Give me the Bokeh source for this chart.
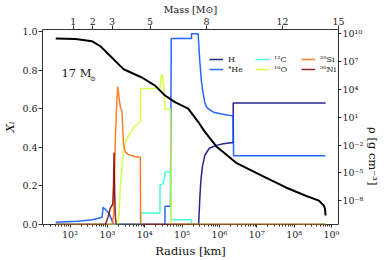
import numpy as np
from bokeh.plotting import figure
from bokeh.models import (Range1d, LogScale, LogAxis, FixedTicker,
                          PrintfTickFormatter, Legend, LegendItem, Label)
from bokeh.embed import file_html
from bokeh.resources import INLINE

# ---- data (log10 radius [km], mass fraction) ----
h_logr = [1.617, 5.444, 5.479, 5.505, 5.545, 5.612, 5.731, 5.918, 6.104, 6.316, 6.37, 6.37, 8.843]
h_x = [0.0, 0.0, 0.15, 0.23, 0.30, 0.36, 0.395, 0.41, 0.418, 0.424, 0.424, 0.63, 0.63]

he_logr = [1.617, 2.2, 2.6, 2.859, 2.886, 3.037, 3.170, 4.543, 4.543, 4.69, 4.71, 5.253, 5.253,
           5.431, 5.473, 5.519, 5.564, 5.606, 5.652, 5.731, 5.864, 6.104, 6.316, 6.37, 6.38, 8.843]
he_x = [0.012, 0.017, 0.025, 0.038, 0.089, 0.06, 0.0, 0.0, 0.094, 0.094, 0.963, 0.963, 0.988,
        0.988, 0.85, 0.74, 0.68, 0.635, 0.61, 0.595, 0.58, 0.571, 0.564, 0.564, 0.356, 0.356]

c_logr = [1.617, 3.891, 3.891, 4.410, 4.410, 4.49, 4.53, 4.543, 4.69, 4.71, 5.253, 5.253, 8.843]
c_x = [0.0, 0.0, 0.06, 0.06, 0.203, 0.212, 0.24, 0.272, 0.272, 0.025, 0.025, 0.0, 0.0]

o_logr = [1.617, 3.271, 3.311, 3.346, 3.391, 3.436, 3.505, 3.604, 3.710, 3.891, 3.891, 4.410,
          4.428, 4.455, 4.481, 4.508, 4.535, 4.543, 4.69, 4.71, 8.843]
o_x = [0.0, 0.0, 0.05, 0.19, 0.30, 0.39, 0.44, 0.47, 0.505, 0.535, 0.704, 0.704,
       0.74, 0.776, 0.77, 0.72, 0.63, 0.597, 0.597, 0.0, 0.0]

si_logr = [1.617, 3.125, 3.170, 3.213, 3.245, 3.277, 3.311, 3.346, 3.391, 3.418, 3.436, 3.479,
           3.569, 3.737, 3.883, 3.891, 8.843]
si_x = [0.0, 0.0, 0.05, 0.44, 0.60, 0.715, 0.66, 0.61, 0.585, 0.47, 0.41, 0.376,
        0.362, 0.352, 0.348, 0.0, 0.0]

ni_logr = [1.617, 2.947, 3.019, 3.080, 3.144, 3.165, 3.178, 3.191, 3.213, 3.231, 8.843]
ni_x = [0.0, 0.0, 0.04, 0.085, 0.105, 0.2, 0.373, 0.2, 0.05, 0.0, 0.0]

# density (log10 radius [km], log10 rho [g cm^-3])
rho_logr = [1.617, 2.149, 2.593, 2.814, 3.125, 3.391, 3.436, 3.923, 4.277, 4.543, 4.809, 5.165,
            5.431, 5.606, 5.918, 6.449, 7.160, 7.779, 8.311, 8.665, 8.798, 8.825, 8.843]
rho_log = [9.44, 9.40, 9.15, 8.62, 7.38, 6.32, 6.15, 5.26, 4.39, 3.33, 2.62, 1.92,
           0.50, -0.56, -2.15, -3.91, -5.33, -6.56, -7.45, -7.98, -8.51, -8.8, -9.57]

species = ["H", "⁴He", "¹²C", "¹⁶O", "²⁸Si", "⁵⁶Ni"]
colors = ["#000080", "#004cff", "#29ffce", "#ceff29", "#ff6800", "#800000"]

# top axis: enclosed mass [Msun] and radius [km] where it is reached
mass_ticks = ["1", "2", "3", "5", "8", "12", "15"]
mass_radius = [122, 409, 1334, 13930, 454000, 49100000, 1540000000]

x_ticks = [1e2, 1e3, 1e4, 1e5, 1e6, 1e7, 1e8, 1e9]
x_labels = ["10²", "10³", "10⁴", "10⁵", "10⁶", "10⁷", "10⁸", "10⁹"]
rho_ticks = [1e10, 1e7, 1e4, 1e1, 1e-2, 1e-5, 1e-8]
rho_labels = ["10¹⁰", "10⁷", "10⁴", "10¹", "10⁻²", "10⁻⁵", "10⁻⁸"]
y_ticks = [0.0, 0.2, 0.4, 0.6, 0.8, 1.0]

FONT = "DejaVu Serif"

p = figure(width=390, height=260, output_backend="svg", toolbar_location=None,
           x_axis_type="log", x_range=(10 ** 1.263, 10 ** 9.189), y_range=(0, 1.0102),
           min_border_left=40, min_border_right=52, min_border_top=28, min_border_bottom=34)
p.xgrid.visible = False
p.ygrid.visible = False
p.outline_line_color = "#333333"
p.background_fill_color = "white"
p.border_fill_color = "white"

p.extra_y_ranges = {"rho": Range1d(10 ** -10.54, 10 ** 10.42)}
p.extra_y_scales = {"rho": LogScale()}

def style_axis(ax):
    ax.axis_line_color = None
    ax.major_tick_line_color = "#333333"
    ax.minor_tick_line_color = "#333333"
    ax.major_tick_in = 0
    ax.major_tick_out = 4
    ax.minor_tick_in = 0
    ax.minor_tick_out = 2
    ax.major_label_text_font = FONT
    ax.major_label_text_font_size = "9.5px"
    ax.major_label_text_color = "#222222"
    ax.major_label_standoff = 2
    ax.axis_label_text_font = FONT
    ax.axis_label_text_color = "#111111"
    ax.axis_label_text_font_style = "normal"

bottom = p.below[0]
bottom.ticker = FixedTicker(ticks=x_ticks,
                            minor_ticks=[m * 10.0 ** k for k in range(1, 10) for m in range(2, 10)])
bottom.major_label_overrides = dict(zip(x_ticks, x_labels))
style_axis(bottom)
bottom.major_tick_out = 3
bottom.major_label_standoff = 1
bottom.axis_label = "Radius [km]"
bottom.axis_label_text_font_size = "11.5px"
bottom.axis_label_standoff = 1

left = p.left[0]
left.ticker = FixedTicker(ticks=y_ticks)
left.formatter = PrintfTickFormatter(format="%.1f")
style_axis(left)
left.major_label_standoff = 1
left.axis_label = "Xᵢ"
left.axis_label_text_font_size = "11.5px"
left.axis_label_text_font_style = "italic"
left.axis_label_standoff = 2

top = LogAxis(ticker=FixedTicker(ticks=mass_radius, minor_ticks=[]),
              major_label_overrides={r: m for r, m in zip(mass_radius, mass_ticks)})
style_axis(top)
top.major_label_standoff = 1
top.axis_label = "Mass [M⊙]"
top.axis_label_text_font_size = "9.5px"
top.axis_label_standoff = 0
p.add_layout(top, "above")

right = LogAxis(y_range_name="rho", ticker=FixedTicker(ticks=rho_ticks, minor_ticks=[]),
                major_label_overrides=dict(zip(rho_ticks, rho_labels)))
style_axis(right)
right.major_tick_out = 3
right.major_label_standoff = 1
right.axis_label = "ρ [g cm⁻³]"
right.axis_label_text_font_size = "11.5px"
right.axis_label_standoff = 7
try:
    right.axis_label_orientation = -np.pi / 2
except Exception:
    pass
p.add_layout(right, "right")

renderers = []
for lr, xv, c in zip([h_logr, he_logr, c_logr, o_logr, si_logr, ni_logr],
                     [h_x, he_x, c_x, o_x, si_x, ni_x], colors):
    r = np.power(10.0, np.array(lr))
    renderers.append(p.line(r, xv, line_color=c, line_width=1.5, line_alpha=0.85))

p.line(np.power(10.0, np.array(rho_logr)), np.power(10.0, np.array(rho_log)),
       y_range_name="rho", line_color="black", line_width=2)

legend = Legend(items=[LegendItem(label=s, renderers=[r]) for s, r in zip(species, renderers)],
                location=(167, 150), orientation="vertical", nrows=2,
                glyph_width=14, glyph_height=10, label_standoff=5, label_width=27,
                label_height=10, spacing=0, padding=0, margin=0,
                border_line_color=None, background_fill_alpha=0,
                label_text_font=FONT, label_text_font_size="8px", label_text_color="#222222")
p.add_layout(legend, "center")

# annotation 17 Msun
p.add_layout(Label(x=19, y=145, x_units="screen", y_units="screen", text="17 M",
                   text_font=FONT, text_font_size="11.5px", text_color="#111111"))
p.add_layout(Label(x=47.6, y=142, x_units="screen", y_units="screen", text="⊙",
                   text_font=FONT, text_font_size="7px", text_color="#111111"))

open("out.html", "w").write(file_html(p, INLINE))
